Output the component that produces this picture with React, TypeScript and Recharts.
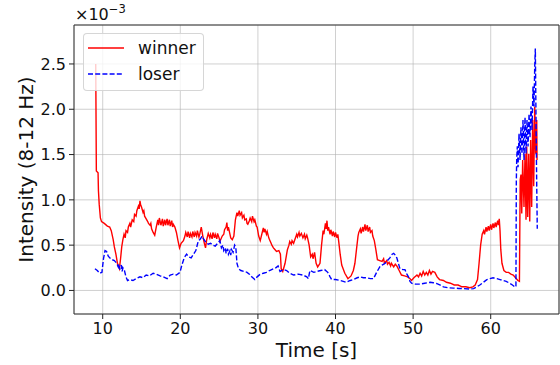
import React from 'react';
import { LineChart, Line, XAxis, YAxis, CartesianGrid, Legend, ReferenceArea } from 'recharts';

// Time [s] and intensity (x10^-3)
const winnerPoints: [number, number][] = [
  [9.10,2.50],[9.18,1.32],[9.40,1.30],[9.45,1.10],[9.55,0.95],[9.70,0.80],[9.85,0.76],[10.2,0.74],[10.6,0.71],[10.9,0.70],
  [11.1,0.66],[11.35,0.56],[11.5,0.48],[11.7,0.40],[11.9,0.30],[12.0,0.27],[12.15,0.24],[12.3,0.35],[12.45,0.48],[12.6,0.56],
  [12.75,0.62],[12.9,0.58],[13.0,0.66],[13.2,0.64],[13.3,0.70],[13.5,0.74],[13.6,0.70],[13.8,0.78],[14.0,0.76],[14.1,0.84],
  [14.3,0.82],[14.4,0.88],[14.6,0.93],[14.7,0.90],[14.8,0.99],[14.9,0.94],[15.0,0.92],[15.2,0.86],[15.3,0.88],[15.4,0.82],
  [15.6,0.79],[15.8,0.76],[15.9,0.74],[16.1,0.72],[16.2,0.74],[16.3,0.68],[16.5,0.64],[16.7,0.61],[16.9,0.70],[17.1,0.78],
  [17.2,0.72],[17.3,0.80],[17.5,0.72],[17.7,0.79],[17.8,0.71],[18.0,0.78],[18.1,0.72],[18.3,0.79],[18.4,0.72],[18.6,0.78],
  [18.7,0.71],[18.9,0.77],[19.0,0.70],[19.1,0.73],[19.3,0.70],[19.5,0.64],[19.7,0.55],[19.9,0.47],[20.1,0.52],[20.4,0.55],
  [20.6,0.60],[20.7,0.64],[20.9,0.59],[21.0,0.65],[21.2,0.58],[21.3,0.63],[21.5,0.59],[21.6,0.65],[21.8,0.59],[21.9,0.64],
  [22.1,0.60],[22.2,0.66],[22.4,0.59],[22.5,0.62],[22.7,0.70],[22.9,0.60],[23.1,0.52],[23.25,0.47],[23.4,0.56],[23.6,0.63],
  [23.8,0.58],[23.9,0.62],[24.1,0.57],[24.2,0.64],[24.4,0.58],[24.5,0.62],[24.7,0.57],[24.8,0.63],[25.0,0.58],[25.1,0.54],
  [25.4,0.60],[25.6,0.62],[25.7,0.67],[25.9,0.70],[26.0,0.75],[26.1,0.66],[26.2,0.70],[26.4,0.62],[26.5,0.58],[26.7,0.56],
  [26.9,0.60],[27.1,0.78],[27.2,0.82],[27.3,0.86],[27.4,0.82],[27.6,0.88],[27.7,0.83],[27.9,0.86],[28.0,0.80],[28.2,0.83],
  [28.3,0.78],[28.5,0.79],[28.6,0.74],[28.7,0.73],[28.9,0.77],[29.0,0.80],[29.2,0.76],[29.3,0.82],[29.5,0.76],[29.6,0.78],
  [29.8,0.71],[29.9,0.70],[30.1,0.60],[30.3,0.55],[30.5,0.62],[30.7,0.69],[30.8,0.64],[30.9,0.68],[31.1,0.62],[31.2,0.65],
  [31.4,0.58],[31.5,0.56],[31.7,0.52],[31.8,0.50],[32.0,0.47],[32.1,0.46],[32.4,0.43],[32.7,0.44],[32.9,0.40],[33.0,0.24],
  [33.2,0.21],[33.5,0.30],[33.8,0.45],[34.0,0.50],[34.1,0.54],[34.3,0.51],[34.4,0.55],[34.6,0.52],[34.8,0.57],[35.0,0.62],
  [35.1,0.59],[35.3,0.64],[35.4,0.60],[35.6,0.63],[35.8,0.58],[36.0,0.62],[36.1,0.57],[36.3,0.61],[36.4,0.58],[36.6,0.50],
  [36.8,0.37],[37.0,0.40],[37.1,0.35],[37.3,0.42],[37.5,0.30],[37.7,0.26],[38.0,0.30],[38.2,0.50],[38.4,0.66],[38.5,0.62],
  [38.7,0.74],[38.8,0.68],[38.9,0.77],[39.0,0.66],[39.1,0.70],[39.3,0.62],[39.4,0.67],[39.6,0.60],[39.7,0.65],[39.9,0.59],
  [40.0,0.64],[40.2,0.58],[40.3,0.62],[40.4,0.55],[40.6,0.40],[40.8,0.28],[41.2,0.19],[41.6,0.13],[42.0,0.16],[42.3,0.22],
  [42.5,0.30],[42.7,0.45],[42.9,0.60],[43.0,0.64],[43.2,0.68],[43.3,0.63],[43.5,0.70],[43.6,0.65],[43.8,0.73],[43.9,0.66],
  [44.1,0.72],[44.2,0.65],[44.4,0.70],[44.5,0.64],[44.7,0.66],[44.8,0.60],[45.0,0.55],[45.2,0.45],[45.4,0.34],[45.7,0.33],
  [46.0,0.32],[46.2,0.35],[46.3,0.30],[46.6,0.33],[46.7,0.29],[46.9,0.31],[47.1,0.27],[47.2,0.30],[47.5,0.26],[47.7,0.29],
  [47.9,0.27],[48.2,0.22],[48.5,0.17],[48.9,0.16],[49.3,0.15],[49.6,0.13],[49.8,0.11],[50.1,0.14],[50.5,0.17],[50.7,0.15],
  [50.9,0.19],[51.1,0.16],[51.3,0.21],[51.5,0.17],[51.7,0.20],[51.9,0.17],[52.1,0.22],[52.3,0.18],[52.5,0.21],[52.8,0.20],
  [53.1,0.15],[53.4,0.12],[53.9,0.11],[54.3,0.09],[54.8,0.08],[55.3,0.06],[55.8,0.06],[56.3,0.04],[56.8,0.04],[57.3,0.03],
  [57.7,0.04],[58.0,0.06],[58.3,0.12],[58.5,0.30],[58.7,0.50],[58.9,0.62],[59.1,0.66],[59.2,0.62],[59.4,0.70],[59.5,0.65],
  [59.7,0.71],[59.8,0.66],[60.0,0.73],[60.1,0.67],[60.3,0.74],[60.4,0.69],[60.6,0.75],[60.7,0.70],[60.9,0.77],[61.0,0.72],
  [61.1,0.79],[61.2,0.66],[61.3,0.45],[61.45,0.30],[61.7,0.22],[62.0,0.20],[62.3,0.20],[62.6,0.18],[62.9,0.17],[63.2,0.14],
  [63.5,0.11],[63.7,0.10],[63.8,1.22],[63.9,1.28],[64.0,0.85],[64.12,1.44],[64.29,0.92],[64.42,1.51],[64.55,0.78],[64.64,1.59],
  [64.77,0.81],[64.9,1.51],[65.03,0.76],[65.15,1.66],[65.28,0.92],[65.41,1.88],[65.54,1.15],[65.67,2.03],[65.8,1.51],[65.93,1.88],
  [65.97,1.44],
];

const loserPoints: [number, number][] = [
  [9.0,0.24],[9.3,0.22],[9.6,0.19],[9.9,0.20],[10.1,0.35],[10.3,0.44],[10.5,0.43],[10.7,0.38],[10.9,0.36],[11.2,0.34],
  [11.5,0.33],[11.8,0.30],[12.0,0.26],[12.1,0.29],[12.2,0.23],[12.4,0.28],[12.5,0.21],[12.6,0.25],[12.8,0.22],[13.0,0.15],
  [13.2,0.11],[13.5,0.12],[13.9,0.11],[14.3,0.13],[14.8,0.15],[15.2,0.14],[15.6,0.17],[16.0,0.16],[16.5,0.19],[16.9,0.18],
  [17.4,0.16],[17.8,0.15],[18.3,0.13],[18.7,0.17],[19.1,0.18],[19.5,0.17],[19.96,0.20],[20.2,0.28],[20.5,0.36],[20.8,0.40],
  [21.1,0.37],[21.4,0.36],[21.7,0.40],[22.0,0.44],[22.3,0.54],[22.6,0.57],[22.8,0.60],[23.0,0.57],[23.3,0.53],[23.6,0.51],
  [23.9,0.52],[24.2,0.50],[24.5,0.49],[24.8,0.52],[25.1,0.55],[25.3,0.47],[25.5,0.50],[25.6,0.44],[25.8,0.47],[25.9,0.41],
  [26.1,0.46],[26.2,0.40],[26.4,0.44],[26.5,0.39],[26.6,0.45],[26.8,0.42],[27.0,0.50],[27.15,0.48],[27.3,0.30],[27.5,0.24],
  [27.8,0.22],[28.2,0.21],[28.6,0.20],[28.9,0.18],[29.2,0.15],[29.6,0.12],[29.9,0.15],[30.3,0.18],[30.7,0.19],[31.1,0.20],
  [31.5,0.22],[32.0,0.24],[32.3,0.25],[32.6,0.27],[32.85,0.21],[33.3,0.23],[33.7,0.22],[34.1,0.19],[34.6,0.17],[35.2,0.18],
  [35.8,0.17],[36.3,0.15],[36.5,0.13],[36.7,0.22],[37.2,0.20],[37.6,0.21],[38.1,0.22],[38.6,0.23],[39.0,0.20],[39.3,0.15],
  [39.5,0.12],[40.0,0.12],[40.6,0.11],[41.0,0.10],[41.4,0.09],[41.9,0.11],[42.3,0.12],[42.8,0.14],[43.2,0.15],[43.6,0.14],
  [44.0,0.14],[44.5,0.13],[44.9,0.13],[45.3,0.20],[45.7,0.26],[46.0,0.28],[46.4,0.30],[46.7,0.33],[47.0,0.36],[47.3,0.40],
  [47.5,0.41],[47.7,0.39],[47.9,0.36],[48.1,0.30],[48.3,0.24],[48.7,0.23],[48.95,0.23],[49.2,0.18],[49.4,0.15],[49.6,0.10],
  [49.8,0.08],[50.3,0.07],[50.9,0.07],[51.5,0.08],[52.2,0.09],[52.6,0.085],[53.0,0.077],[53.5,0.06],[53.9,0.04],[54.5,0.03],
  [55.2,0.026],[55.9,0.022],[56.5,0.02],[57.3,0.015],[57.8,0.02],[58.2,0.04],[58.6,0.06],[59.05,0.09],[59.5,0.12],[59.9,0.13],
  [60.3,0.14],[60.8,0.13],[61.2,0.12],[61.6,0.11],[62.0,0.10],[62.5,0.077],[62.8,0.06],[63.1,0.04],[63.25,0.04],[63.3,1.20],
  [63.35,1.45],[63.43,1.59],[63.52,1.36],[63.65,1.73],[63.78,1.44],[63.9,1.80],[64.03,1.51],[64.16,1.88],[64.29,1.44],[64.42,1.91],
  [64.55,1.51],[64.68,1.88],[64.81,1.59],[64.94,1.95],[65.06,1.69],[65.19,2.03],[65.32,1.77],[65.45,2.25],[65.58,2.03],[65.67,2.47],
  [65.75,2.67],[65.84,1.88],[65.93,1.15],[66.0,0.68],
];

const seriesNames = ['winner', 'loser'];
const xTicks = [10, 20, 30, 40, 50, 60];
const yTicks = [0, 0.5, 1.0, 1.5, 2.0, 2.5];
const xDomain: [number, number] = [6.3, 68.8];
const yDomain: [number, number] = [-0.26, 2.93];
const xLabel = 'Time [s]';
const yLabel = 'Intensity (8-12 Hz)';

const winnerData = winnerPoints.map(([t, v]) => ({ t, winner: v }));
const loserData = loserPoints.map(([t, v]) => ({ t, loser: v }));

const FONT = '"DejaVu Sans", Verdana, sans-serif';
const TXT = '#111';
const RED = '#ff0000';
const BLUE = '#0000ff';
const DASH = '5 2.2';

const renderYLabel = () => (
  <g>
    <text x={33} y={169.5} transform="rotate(-90 33 169.5)" textAnchor="middle"
      fontSize={20} fontFamily={FONT} fill={TXT}>{yLabel}</text>
    <text x={75} y={20} fontSize={16} fontFamily={FONT} fill={TXT}>
      ×10<tspan dy={-7} fontSize={11.5}>−3</tspan>
    </text>
  </g>
);

const renderXLabel = () => (
  <text x={316.5} y={357} textAnchor="middle" fontSize={20} fontFamily={FONT} fill={TXT}>{xLabel}</text>
);

const LegendBox = (props: any) => {
  const payload = (props && props.payload) || [];
  const items = seriesNames.map((n, i) => {
    const p = payload.find((e: any) => e.value === n || e.dataKey === n);
    return { name: n, color: p?.color || (i === 0 ? RED : BLUE), dashed: i === 1 };
  });
  return (
    <div style={{ width: 121, height: 58, boxSizing: 'border-box', border: '1px solid rgba(204,204,204,0.8)',
      borderRadius: 4, background: 'rgba(255,255,255,0.8)', position: 'relative' }}>
      <svg width={121} height={58} style={{ position: 'absolute', left: -1, top: -1 }}>
        {items.map((it, i) => (
          <g key={it.name}>
            <line x1={5} x2={41} y1={15 + i * 26} y2={15 + i * 26} stroke={it.color} strokeWidth={1.4}
              strokeDasharray={it.dashed ? DASH : undefined} />
            <text x={55} y={21 + i * 26} fontSize={17} fontFamily={FONT} fill={TXT}>{it.name}</text>
          </g>
        ))}
      </svg>
    </div>
  );
};

export default function App() {
  return (
    <div style={{ position: 'absolute', left: 0, top: 0, width: 560, height: 365, background: '#fff' }}>
      <LineChart width={560} height={365} margin={{ top: 25, right: 1, bottom: 0, left: 0 }}>
        <CartesianGrid stroke="#b0b0b0" strokeOpacity={0.6} strokeWidth={1} />
        <XAxis type="number" dataKey="t" domain={xDomain} ticks={xTicks} allowDataOverflow
          height={51} tickSize={5} tickMargin={4} axisLine={false}
          tickLine={{ stroke: '#222' }} tick={{ fontSize: 16, fontFamily: FONT, fill: TXT }}
          label={renderXLabel} />
        <YAxis type="number" domain={yDomain} ticks={yTicks} allowDataOverflow
          width={74} tickSize={5} tickMargin={3} axisLine={false}
          tickLine={{ stroke: '#222' }} tick={{ fontSize: 16, fontFamily: FONT, fill: TXT }}
          tickFormatter={(v: number) => v.toFixed(1)} label={renderYLabel} />
        <Line data={winnerData} dataKey="winner" name="winner" type="linear" stroke={RED} strokeWidth={1.4}
          dot={false} activeDot={false} isAnimationActive={false} />
        <Line data={loserData} dataKey="loser" name="loser" type="linear" stroke={BLUE} strokeWidth={1.4}
          strokeDasharray={DASH} dot={false} activeDot={false} isAnimationActive={false} />
        <ReferenceArea x1={xDomain[0]} x2={xDomain[1]} y1={yDomain[0]} y2={yDomain[1]}
          fill="none" fillOpacity={0} stroke="#333" strokeWidth={1} ifOverflow="visible" />
        <Legend layout="horizontal" verticalAlign="middle" align="center" content={LegendBox}
          wrapperStyle={{ position: 'absolute', left: 83, top: 33, width: 121, height: 58 }} />
      </LineChart>
    </div>
  );
}
